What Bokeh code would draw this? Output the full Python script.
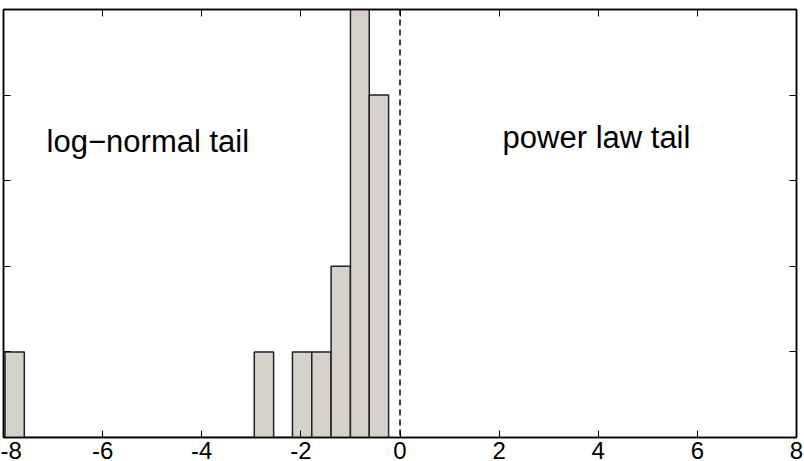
from bokeh.plotting import figure
from bokeh.models import LinearAxis, FixedTicker, Range1d, Span
from bokeh.core.properties import value
from bokeh.embed import file_html
from bokeh.resources import INLINE

# bin edges (21) and counts (20)
bin_edges = [-7.97, -7.58, -7.20, -6.81, -6.42, -6.04, -5.65, -5.26, -4.87, -4.49,
             -4.10, -3.71, -3.33, -2.94, -2.55, -2.17, -1.78, -1.39, -1.00, -0.62, -0.23]
counts = [1, 0, 0, 0, 0, 0, 0, 0, 0, 0, 0, 0, 0, 1, 0, 1, 1, 2, 5, 4]

x_ticks = [-8, -6, -4, -2, 0, 2, 4, 6, 8]
x_tick_labels = ["-8", "-6", "-4", "-2", "0", "2", "4", "6", "8"]
y_ticks = [0, 1, 2, 3, 4, 5]

threshold = 0.0
label_text = ["log\u2212normal tail", "power law tail"]
label_x = [-7.13, 2.07]
label_y = [3.46, 3.51]

FONT = "Liberation Sans"

p = figure(width=804, height=461, output_backend="svg", toolbar_location=None,
           x_range=Range1d(-8, 8), y_range=Range1d(0, 5),
           x_axis_location=None, y_axis_location=None,
           min_border_left=3, min_border_top=9, min_border_right=8, min_border_bottom=0)
p.background_fill_color = "white"
p.border_fill_color = "white"
p.xgrid.visible = False
p.ygrid.visible = False
p.outline_line_color = "black"
p.outline_line_width = 1.5

def mk_axis(ticks, labels):
    ax = LinearAxis(ticker=FixedTicker(ticks=ticks))
    ax.major_tick_in = 7
    ax.major_tick_out = 0
    ax.minor_tick_in = 0
    ax.minor_tick_out = 0
    ax.axis_line_color = "black"
    ax.axis_line_width = 1.5
    ax.major_tick_line_color = "black"
    ax.major_tick_line_width = 1
    if labels is not None:
        ax.major_label_text_font = FONT
        ax.major_label_text_font_size = "24px"
        ax.major_label_text_color = "black"
        ax.major_label_standoff = 4
        ax.major_label_overrides = {t: s for t, s in zip(ticks, labels)}
    else:
        ax.major_label_overrides = {t: "" for t in ticks}
        ax.major_label_standoff = 0
    return ax

p.add_layout(mk_axis(x_ticks, x_tick_labels), "below")
p.add_layout(mk_axis(x_ticks, None), "above")
p.add_layout(mk_axis(y_ticks, None), "left")
p.add_layout(mk_axis(y_ticks, None), "right")

p.quad(left=bin_edges[:-1], right=bin_edges[1:], bottom=0, top=counts,
       fill_color="#d4d2ca", line_color="#222222", line_width=1.5)

p.add_layout(Span(location=threshold, dimension="height", line_color="black",
                  line_width=1.5, line_dash="6 4"))

p.text(x=label_x, y=label_y, text=label_text, text_font=value(FONT),
       text_font_size="31px", text_color="black", text_align="left",
       text_baseline="alphabetic")

open("out.html", "w").write(file_html(p, INLINE))
